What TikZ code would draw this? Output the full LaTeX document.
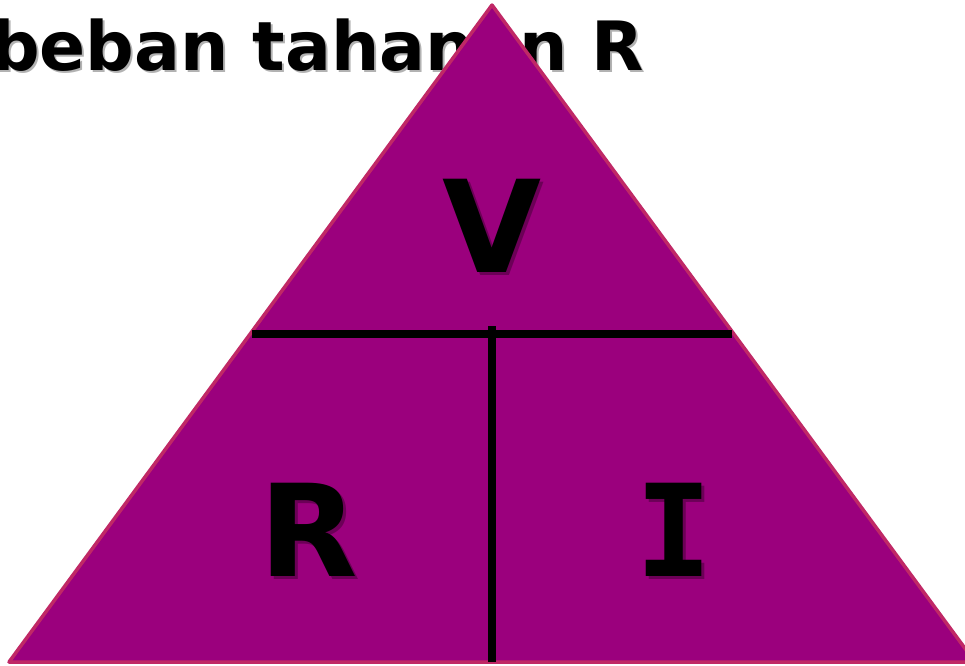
\documentclass[tikz,border=0pt]{standalone}
\usepackage{fontspec}
\setmainfont{DejaVu Sans}
\setmonofont{DejaVu Sans Mono}
\usepackage{xcolor}
\usetikzlibrary{calc}

\definecolor{triFill}{RGB}{155,0,125}
\definecolor{triEdge}{RGB}{192,40,102}

\begin{document}
\begin{tikzpicture}[
    x=1pt, y=-1pt,
    tri/.style={fill=triFill,draw=triEdge,line width=3.5pt,line join=round},
    bar/.style={black,line width=8pt},
    letter/.style={inner sep=0pt,font=\fontsize{128}{128}\selectfont\bfseries},
    title/.style={inner sep=0pt,anchor=base west,
                  font=\fontsize{68}{68}\selectfont\bfseries},
    shadow/.style={text=black,opacity=.3},
  ]
  \useasboundingbox (0,0) rectangle (965,665);

  % heading line, partly hidden behind the triangle
  \node[title,shadow] at (-7,72) {beban tahanan R};
  \node[title] (head) at (-9,70) {beban tahanan R};

  % the triangle
  \coordinate (top)   at (492,5);
  \coordinate (left)  at (9,662);
  \coordinate (right) at (975,662);
  \draw[tri] (top) -- (right) -- (left) -- cycle;

  % dividing bars
  \coordinate (hl) at (252,334);
  \coordinate (hr) at (732,334);
  \coordinate (vt) at (492,326);
  \coordinate (vb) at (492,662);
  \draw[bar] (hl) -- (hr);
  \draw[bar] (vt) -- (vb);

  % V, R and I
  \node[letter,shadow] at (495,229) {V};
  \node[letter] (v) at (492,226) {V};
  \node[letter,shadow] at (312,533) {R};
  \node[letter] (r) at (309,530) {R};
  \node[letter,shadow,font=\fontsize{128}{128}\selectfont\ttfamily\bfseries] at (677,533) {I};
  \node[letter,font=\fontsize{128}{128}\selectfont\ttfamily\bfseries] (i) at (674,530) {I};

\end{tikzpicture}
\end{document}
